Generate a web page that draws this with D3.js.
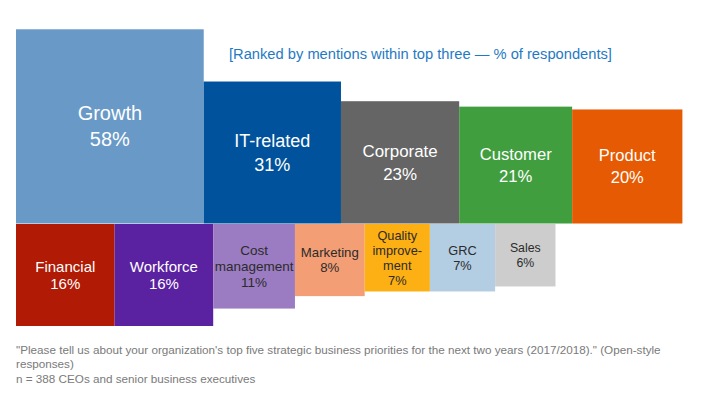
<!DOCTYPE html>
<html>
<head>
<meta charset="utf-8">
<script src="https://cdn.jsdelivr.net/npm/d3@7"></script>
<style>
  body { margin: 0; background: #fff; }
  svg { font-family: "Liberation Sans", Arial, sans-serif; }
</style>
</head>
<body>
<svg width="710" height="395"></svg>
<script>
// top row: the big priorities
var topCategories = [["Growth"], ["IT-related"], ["Corporate"], ["Customer"], ["Product"]];
var topValues = [58, 31, 23, 21, 20];
var topColors = ["#6899c7", "#00529c", "#656565", "#419e3f", "#e55a02"];

// bottom row: the smaller ones
var bottomCategories = [["Financial"], ["Workforce"], ["Cost", "management"], ["Marketing"],
  ["Quality", "improve-", "ment"], ["GRC"], ["Sales"]];
var bottomValues = [16, 16, 11, 8, 7, 7, 6];
var bottomColors = ["#b11a04", "#5a21a1", "#9b7cc2", "#f39e75", "#fdb013", "#b3cde3", "#cdcdcd"];
var bottomText = ["#fff", "#fff", "#2b2b2b", "#2b2b2b", "#2b2b2b", "#2b2b2b", "#2b2b2b"];

var subtitle = "[Ranked by mentions within top three \u2014 % of respondents]";
var notes = [
  "\"Please tell us about your organization's top five strategic business priorities for the next two years (2017/2018).\" (Open-style",
  "responses)",
  "n = 388 CEOs and senior business executives"
];

var svg = d3.select("svg");
var left = 16, midY = 223.5;

// box sides scale with sqrt of value, so area ~ value
var w = d3.scaleSqrt().domain([0, 100]).range([0, 246.5]);
var h = d3.scaleSqrt().domain([0, 100]).range([0, 255]);
// label size grows with the box
var fs = d3.scaleLinear().domain([6, 8, 11, 16, 20, 31, 58]).range([12.3, 13.2, 13.5, 15, 16.5, 18, 20]);

function layout(values) {
  var x = left;
  return values.map(function(v) {
    var r = { v: v, x: x, w: w(v), h: h(v) };
    x += r.w;
    return r;
  });
}

function drawRow(cats, values, colors, textColors, top) {
  var boxes = layout(values);
  var g = svg.append("g");
  var cell = g.selectAll("g").data(boxes).enter().append("g");

  cell.append("rect")
    .attr("x", function(d) { return d.x; })
    .attr("y", function(d) { return top ? midY - d.h : midY + 0.5; })
    .attr("width", function(d) { return d.w; })
    .attr("height", function(d) { return d.h; })
    .attr("fill", function(d, i) { return colors[i]; });

  cell.each(function(d, i) {
    var lines = cats[i].concat([d.v + "%"]);
    var size = fs(d.v);
    var lh = size * 1.1 + (top ? 4 : 1);
    var cy = top ? midY - d.h / 2 : midY + 0.5 + d.h / 2;
    var y0 = cy - (lines.length - 1) * lh / 2 + size * 0.35;
    d3.select(this).append("text")
      .attr("text-anchor", "middle")
      .attr("font-size", size)
      .attr("fill", textColors ? textColors[i] : "#fff")
      .selectAll("tspan").data(lines).enter().append("tspan")
      .attr("x", d.x + d.w / 2)
      .attr("y", function(t, j) { return y0 + j * lh; })
      .text(function(t) { return t; });
  });
}

drawRow(topCategories, topValues, topColors, null, true);
drawRow(bottomCategories, bottomValues, bottomColors, bottomText, false);

svg.append("text")
  .attr("x", 229)
  .attr("y", 58.5)
  .attr("font-size", 14.7)
  .attr("fill", "#1f7ac4")
  .text(subtitle);

svg.append("g").selectAll("text").data(notes).enter().append("text")
  .attr("x", left)
  .attr("y", function(d, i) { return [354, 367.5, 382.5][i]; })
  .attr("font-size", 11.7)
  .attr("fill", "#7a7a7a")
  .text(function(d) { return d; });
</script>
</body>
</html>
